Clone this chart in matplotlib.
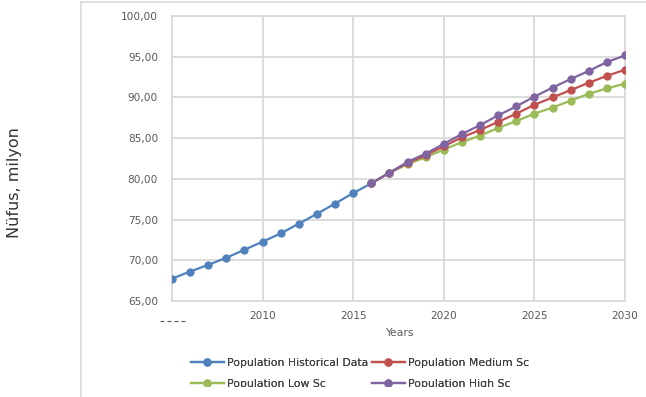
import matplotlib
matplotlib.use("Agg")
import matplotlib.pyplot as plt
from matplotlib.lines import Line2D
from matplotlib.patches import Rectangle

hist_years = [2005, 2006, 2007, 2008, 2009, 2010, 2011, 2012, 2013, 2014, 2015, 2016]
hist_values = [67.75, 68.62, 69.44, 70.31, 71.30, 72.28, 73.30, 74.50, 75.70, 76.97, 78.25, 79.45]

scen_years = [2016, 2017, 2018, 2019, 2020, 2021, 2022, 2023, 2024, 2025, 2026, 2027, 2028, 2029, 2030]
medium = [79.45, 80.75, 81.95, 82.90, 84.00, 85.10, 86.00, 87.00, 88.00, 89.10, 90.00, 90.90, 91.80, 92.65, 93.40]
low = [79.45, 80.75, 81.80, 82.65, 83.60, 84.50, 85.30, 86.25, 87.10, 88.00, 88.75, 89.60, 90.45, 91.10, 91.70]
high = [79.45, 80.75, 82.08, 83.10, 84.30, 85.50, 86.60, 87.80, 88.90, 90.10, 91.20, 92.25, 93.25, 94.35, 95.15]

labels = ["Population Historical Data", "Population Medium Sc", "Population Low Sc", "Population High Sc"]
y_ticks = [65, 70, 75, 80, 85, 90, 95, 100]
x_ticks = [2010, 2015, 2020, 2025, 2030]

C_BLUE = "#4F81BD"
C_RED = "#C0504D"
C_GREEN = "#9BBB59"
C_PURPLE = "#8064A2"
GRID = "#d9d9d9"
TXT = "#595959"

W, H = 646, 397
fig = plt.figure(figsize=(W / 100, H / 100), dpi=100)
fig.patch.set_facecolor("white")

# outer chart frame
fig.add_artist(Line2D([80.5 / W, 80.5 / W], [0, 1 - 2 / H], color=GRID, lw=1.2))
fig.add_artist(Line2D([80.5 / W, 1], [1 - 2 / H, 1 - 2 / H], color=GRID, lw=1.2))

L, R, T, B = 172, 625, 16, 301
ax = fig.add_axes([L / W, 1 - B / H, (R - L) / W, (B - T) / H])
ax.set_xlim(2005, 2030)
ax.set_ylim(65, 100)

kw = dict(lw=1.6, marker="o", ms=6, markeredgewidth=0)
h_hist, = ax.plot(hist_years, hist_values, color=C_BLUE, label=labels[0], zorder=3, **kw)
h_low, = ax.plot(scen_years, low, color=C_GREEN, label=labels[2], zorder=4, **kw)
h_med, = ax.plot(scen_years, medium, color=C_RED, label=labels[1], zorder=5, **kw)
h_high, = ax.plot(scen_years, high, color=C_PURPLE, label=labels[3], zorder=6, **kw)

ax.set_yticks(y_ticks)
ax.set_yticklabels([f"{v:.2f}".replace(".", ",") for v in y_ticks])
ax.set_xticks(x_ticks)
ax.set_xticklabels([str(v) for v in x_ticks])
ax.tick_params(axis="both", length=0, labelsize=7.6, labelcolor=TXT)
ax.tick_params(axis="y", pad=10)
ax.tick_params(axis="x", pad=7)
ax.grid(True, color=GRID, lw=1.3)
ax.set_axisbelow(True)
for s in ax.spines.values():
    s.set_color(GRID)
    s.set_linewidth(1.3)

# partially hidden first x label
fig.add_artist(Line2D([160 / W, 185 / W], [1 - 320.7 / H, 1 - 320.7 / H],
                      color=TXT, lw=0.8, ls=(0, (3.6, 2.7))))

fig.text(399 / W, 1 - 333 / H, "Years", fontsize=7.8, color=TXT, ha="center", va="center")
fig.text(14.5 / W, 1 - 182.5 / H, "Nüfus, milyon", fontsize=11.5, color="#333333",
         rotation=90, ha="center", va="center")

# legend entries placed individually (two rows, two columns)
entries = [(h_hist, labels[0], 191, 363), (h_med, labels[1], 372, 363),
           (h_low, labels[2], 191, 384), (h_high, labels[3], 372, 384)]
for hdl, lab, lx, ly in entries:
    lg = fig.legend([hdl], [lab], loc="center left",
                    bbox_to_anchor=(lx / W, 1 - ly / H),
                    frameon=False, fontsize=7.8, handlelength=3.0, handletextpad=0.3,
                    borderpad=0, borderaxespad=0, labelcolor="#404040")
    fig.add_artist(lg)

# clip the bottom of the chart
fig.add_artist(Rectangle((81.5 / W, 0), 1, (H - 386.5) / H, transform=fig.transFigure,
                         facecolor="white", edgecolor="none", zorder=10))

fig.savefig("out.png", dpi=100)
